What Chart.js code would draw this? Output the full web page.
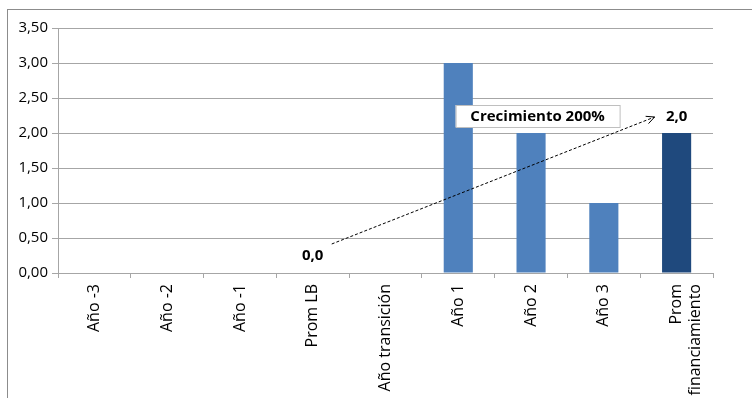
<!DOCTYPE html>
<html>
<head>
<meta charset="utf-8">
<script src="https://cdn.jsdelivr.net/npm/chart.js@4"></script>
<style>
  html, body { margin: 0; padding: 0; background: #fff; }
  #wrap { position: relative; width: 752px; height: 398px; }
  #frame { position: absolute; left: 7px; top: 9px; width: 760px; height: 400px; border: 1px solid #8c8c8c; box-sizing: border-box; }
  canvas { position: absolute; left: 0; top: 0; }
</style>
</head>
<body>
<div id="wrap">
  <div id="frame"></div>
  <canvas id="myChart" width="752" height="398"></canvas>
</div>
<script>
const categories = ['Año -3', 'Año -2', 'Año -1', 'Prom LB', 'Año transición', 'Año 1', 'Año 2', 'Año 3', ['Prom', 'financiamiento']]
const values = [0, 0, 0, 0, 0, 3, 2, 1, 2]
const barColors = ['#4f81bd', '#4f81bd', '#4f81bd', '#4f81bd', '#4f81bd', '#4f81bd', '#4f81bd', '#4f81bd', '#1f497d']
const baseIndex = 3      // Prom LB
const finalIndex = 8     // Prom financiamiento
const growthText = 'Crecimiento 200%'

const fontName = '"Open Sans", Lato, sans-serif'
const fmt = v => v.toFixed(1).replace('.', ',')

// arrow, labels and box over the bars
const growthPlugin = {
    id: 'growth',
    afterDatasetsDraw(chart) {
        const c = chart.ctx
        const x = chart.scales.x
        const y = chart.scales.y
        const x0 = x.getPixelForValue(baseIndex)
        const y0 = y.getPixelForValue(values[baseIndex])
        const x1 = x.getPixelForValue(finalIndex)
        const y1 = y.getPixelForValue(values[finalIndex])

        c.save()
        c.font = 'bold 15px ' + fontName
        c.fillStyle = '#000'
        c.textAlign = 'center'
        c.textBaseline = 'middle'
        c.fillText(fmt(values[baseIndex]), x0, y0 - 17)
        c.fillText(fmt(values[finalIndex]), x1, y1 - 16)

        // dashed arrow
        const ax = x0 + 19, ay = y0 - 29
        const bx = x1 - 22, by = y1 - 16
        c.strokeStyle = '#000'
        c.lineWidth = 1
        c.setLineDash([3, 2])
        c.beginPath()
        c.moveTo(ax, ay)
        c.lineTo(bx, by)
        c.stroke()
        c.setLineDash([])
        const ang = Math.atan2(by - ay, bx - ax)
        c.beginPath()
        c.moveTo(bx - 9 * Math.cos(ang - 0.45), by - 9 * Math.sin(ang - 0.45))
        c.lineTo(bx, by)
        c.lineTo(bx - 9 * Math.cos(ang + 0.45), by - 9 * Math.sin(ang + 0.45))
        c.stroke()

        // text box
        const bxl = x1 - 221, bxt = y1 - 28
        c.fillStyle = '#fff'
        c.fillRect(bxl, bxt, 164, 22)
        c.strokeStyle = '#bfbfbf'
        c.strokeRect(bxl + 0.5, bxt + 0.5, 164, 22)
        c.fillStyle = '#000'
        c.fillText(growthText, bxl + 82, bxt + 12)
        c.restore()
    }
}

try {
    var ctx = document.getElementById('myChart').getContext('2d');
    var myChart = new Chart(ctx, {
        type: 'bar',
        data: {
            labels: categories,
            datasets: [{
                data: values,
                backgroundColor: barColors,
                categoryPercentage: 1,
                barPercentage: 0.4
            }]
        },
        options: {
            responsive: false,
            animation: false,
            plugins: {
                legend: {display: false},
                tooltip: {enabled: false}
            },
            layout: {
                padding: {top: 28, right: 39, left: 0, bottom: 0}
            },
            scales: {
                y: {
                    min: 0,
                    max: 3.5,
                    ticks: {
                        stepSize: 0.5,
                        color: '#000',
                        font: {family: fontName, size: 15},
                        padding: 4,
                        callback: v => v.toFixed(2).replace('.', ',')
                    },
                    grid: {color: '#a6a6a6', tickLength: 6},
                    border: {color: '#a6a6a6'},
                    afterFit: s => { s.width = 58 }
                },
                x: {
                    ticks: {
                        minRotation: 90,
                        maxRotation: 90,
                        autoSkip: false,
                        color: '#000',
                        font: {family: fontName, size: 16},
                        padding: 6
                    },
                    grid: {drawOnChartArea: false, color: '#a6a6a6', tickLength: 5},
                    border: {color: '#a6a6a6'},
                    afterFit: s => { s.height = 125 }
                }
            }
        },
        plugins: [growthPlugin]
    });
} catch (error) {
    console.log(error);
}
</script>
</body>
</html>
